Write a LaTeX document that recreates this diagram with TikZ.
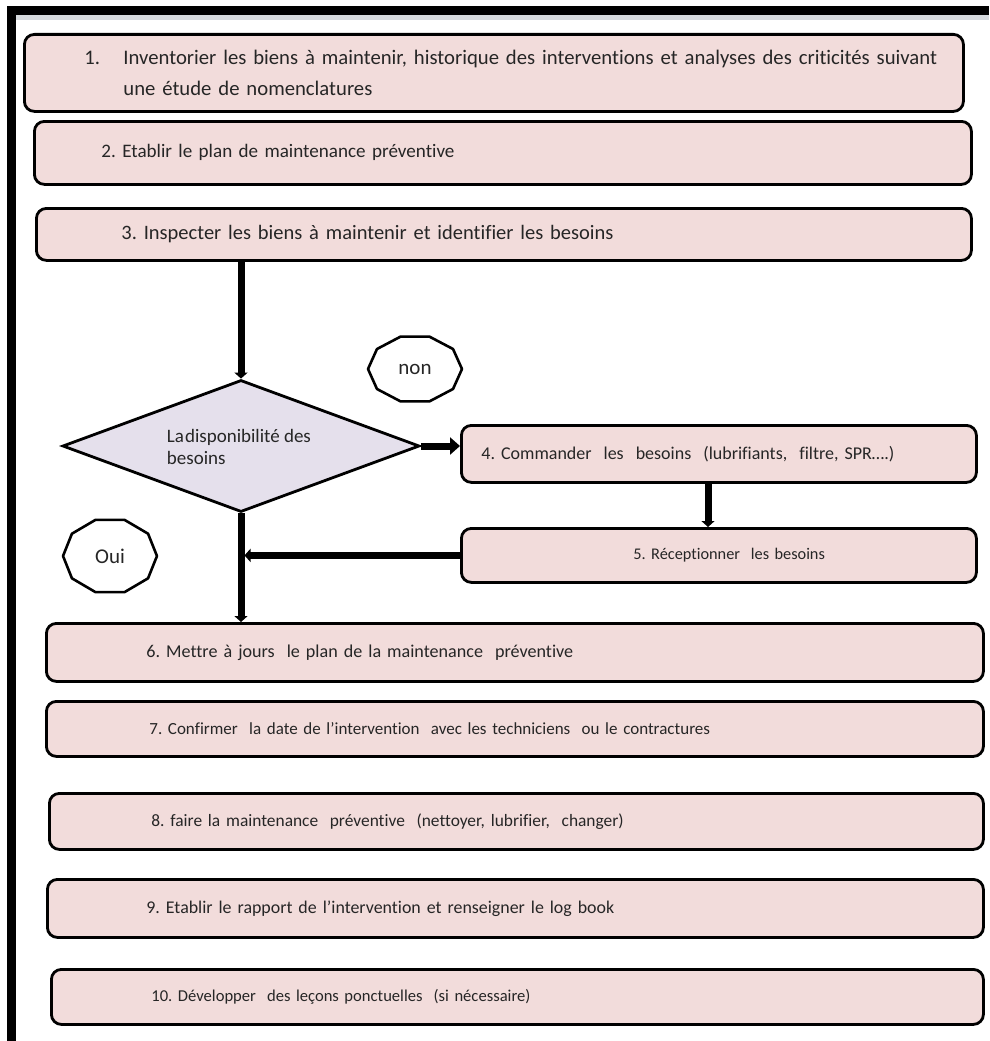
\documentclass[tikz,border=0pt]{standalone}
\usepackage{fontspec}
\setmainfont{Carlito}[Ligatures=NoCommon]
\usetikzlibrary{shapes.geometric,arrows.meta}
\definecolor{boxfill}{HTML}{F2DCDB}
\definecolor{diafill}{HTML}{E5E0EC}
\definecolor{stripgray}{HTML}{D6DADE}
\definecolor{inkgray}{HTML}{262626}
\frenchspacing

\begin{document}
\begin{tikzpicture}[x=1pt,y=-1pt,
  stepbox/.style={draw=black, line width=2.8pt, rounded corners=10pt, fill=boxfill,
    anchor=north west, inner xsep=0pt, inner ysep=2pt, align=left, text=inkgray},
  fs/.style={font=\fontsize{#1}{24}\selectfont},
  flow/.style={line width=7pt, -{Triangle[length=7pt,width=14pt]}},
  tag/.style={font=\fontsize{21}{24}\selectfont, text=inkgray},
  tagline/.style={draw=black, line width=2.6pt, line join=round, fill=white}
]
\useasboundingbox (0,0) rectangle (989,1041);

% page frame
\fill[black] (7,6) rectangle (989,15);
\fill[stripgray] (16,15) rectangle (989,20);
\fill[black] (7,6) rectangle (16,1041);

% process steps
\node[stepbox, font=\fontsize{20.7}{31}\selectfont, minimum width=939pt, text width=939pt, minimum height=77pt] (s1) at (23,33)
  {\hspace*{60pt}\mbox{\makebox[39pt][l]{1.}Inventorier les biens à maintenir, historique des interventions et analyses des criticités suivant}\\
   \hspace*{99pt}une étude de nomenclatures};
\node[stepbox, fs=19.1, minimum width=937pt, text width=937pt, minimum height=63pt] (s2) at (33,120)
  {\hspace*{67pt}2. Etablir le plan de maintenance préventive};
\node[stepbox, fs=20.5, minimum width=935pt, text width=935pt, minimum height=52pt] (s3) at (35,207)
  {\hspace*{85pt}3. Inspecter les biens à maintenir et identifier les besoins};
\node[stepbox, fs=18, minimum width=515pt, text width=515pt, minimum height=57pt] (s4) at (460,424)
  {\hspace*{20pt}4. Commander~ les~ besoins~ (lubrifiants,~ filtre, SPR….)};
\node[stepbox, fs=16.3, minimum width=515pt, text width=515pt, minimum height=54pt] (s5) at (460,527)
  {\hspace*{172pt}5. Réceptionner~ les besoins};
\node[stepbox, fs=18.1, minimum width=937pt, text width=937pt, minimum height=58pt] (s6) at (45,622)
  {\hspace*{100pt}6. Mettre à jours~ le plan de la maintenance~ préventive};
\node[stepbox, fs=17, minimum width=937pt, text width=937pt, minimum height=55pt] (s7) at (45,700)
  {\hspace*{103pt}7. Confirmer~ la date de l’intervention~ avec les techniciens~ ou le contractures};
\node[stepbox, fs=17.4, minimum width=934pt, text width=934pt, minimum height=56pt] (s8) at (48,792)
  {\hspace*{102pt}8. faire la maintenance~ préventive~ (nettoyer, lubrifier,~ changer)};
\node[stepbox, fs=17.9, minimum width=936pt, text width=936pt, minimum height=58pt] (s9) at (46,878)
  {\hspace*{99pt}9. Etablir le rapport de l’intervention et renseigner le log book};
\node[stepbox, fs=16.6, minimum width=932pt, text width=932pt, minimum height=55pt] (s10) at (50,968)
  {\hspace*{100pt}10. Développer~ des leçons ponctuelles~ (si nécessaire)};

% decision
\node[draw=black, line width=2.8pt, diamond, fill=diafill, minimum width=357pt, minimum height=132pt,
  inner sep=0pt] (dec) at (241,446) {};
\node[align=left, text=inkgray, inner sep=0pt, font=\fontsize{19}{22}\selectfont] (dectext) at (239,447)
  {La\kern1pt disponibilité des\\besoins};

% answer tags
\begin{scope}[shift={(415,369)}]
  \draw[tagline] (0:47pt and 34pt) \foreach \a in {36,72,...,324} {-- (\a:47pt and 34pt)} -- cycle;
\end{scope}
\node[tag] (non) at (415,369) {non};
\begin{scope}[shift={(110,556)}]
  \draw[tagline] (0:47pt and 38pt) \foreach \a in {36,72,...,324} {-- (\a:47pt and 38pt)} -- cycle;
\end{scope}
\node[tag] (oui) at (110,556) {Oui};

% connectors
\draw[flow, -{Triangle[length=6pt,width=13pt]}] (dec.north |- s3.south) -- (dec.north);
\draw[flow, -{Triangle[length=10pt,width=17pt]}] (dec.east) -- (dec.east -| s4.west);
\draw[flow, -{Triangle[length=6pt,width=13pt]}] ([xshift=248pt]s4.south west) -- ([xshift=248pt]s5.north west);
\draw[flow, -{Triangle[length=6pt,width=13pt]}, shorten >=3.5pt] (s5.west) -- (s5.west -| dec.south);
\draw[flow, -{Triangle[length=6pt,width=13pt]}] (dec.south) -- (dec.south |- s6.north);
\end{tikzpicture}
\end{document}
